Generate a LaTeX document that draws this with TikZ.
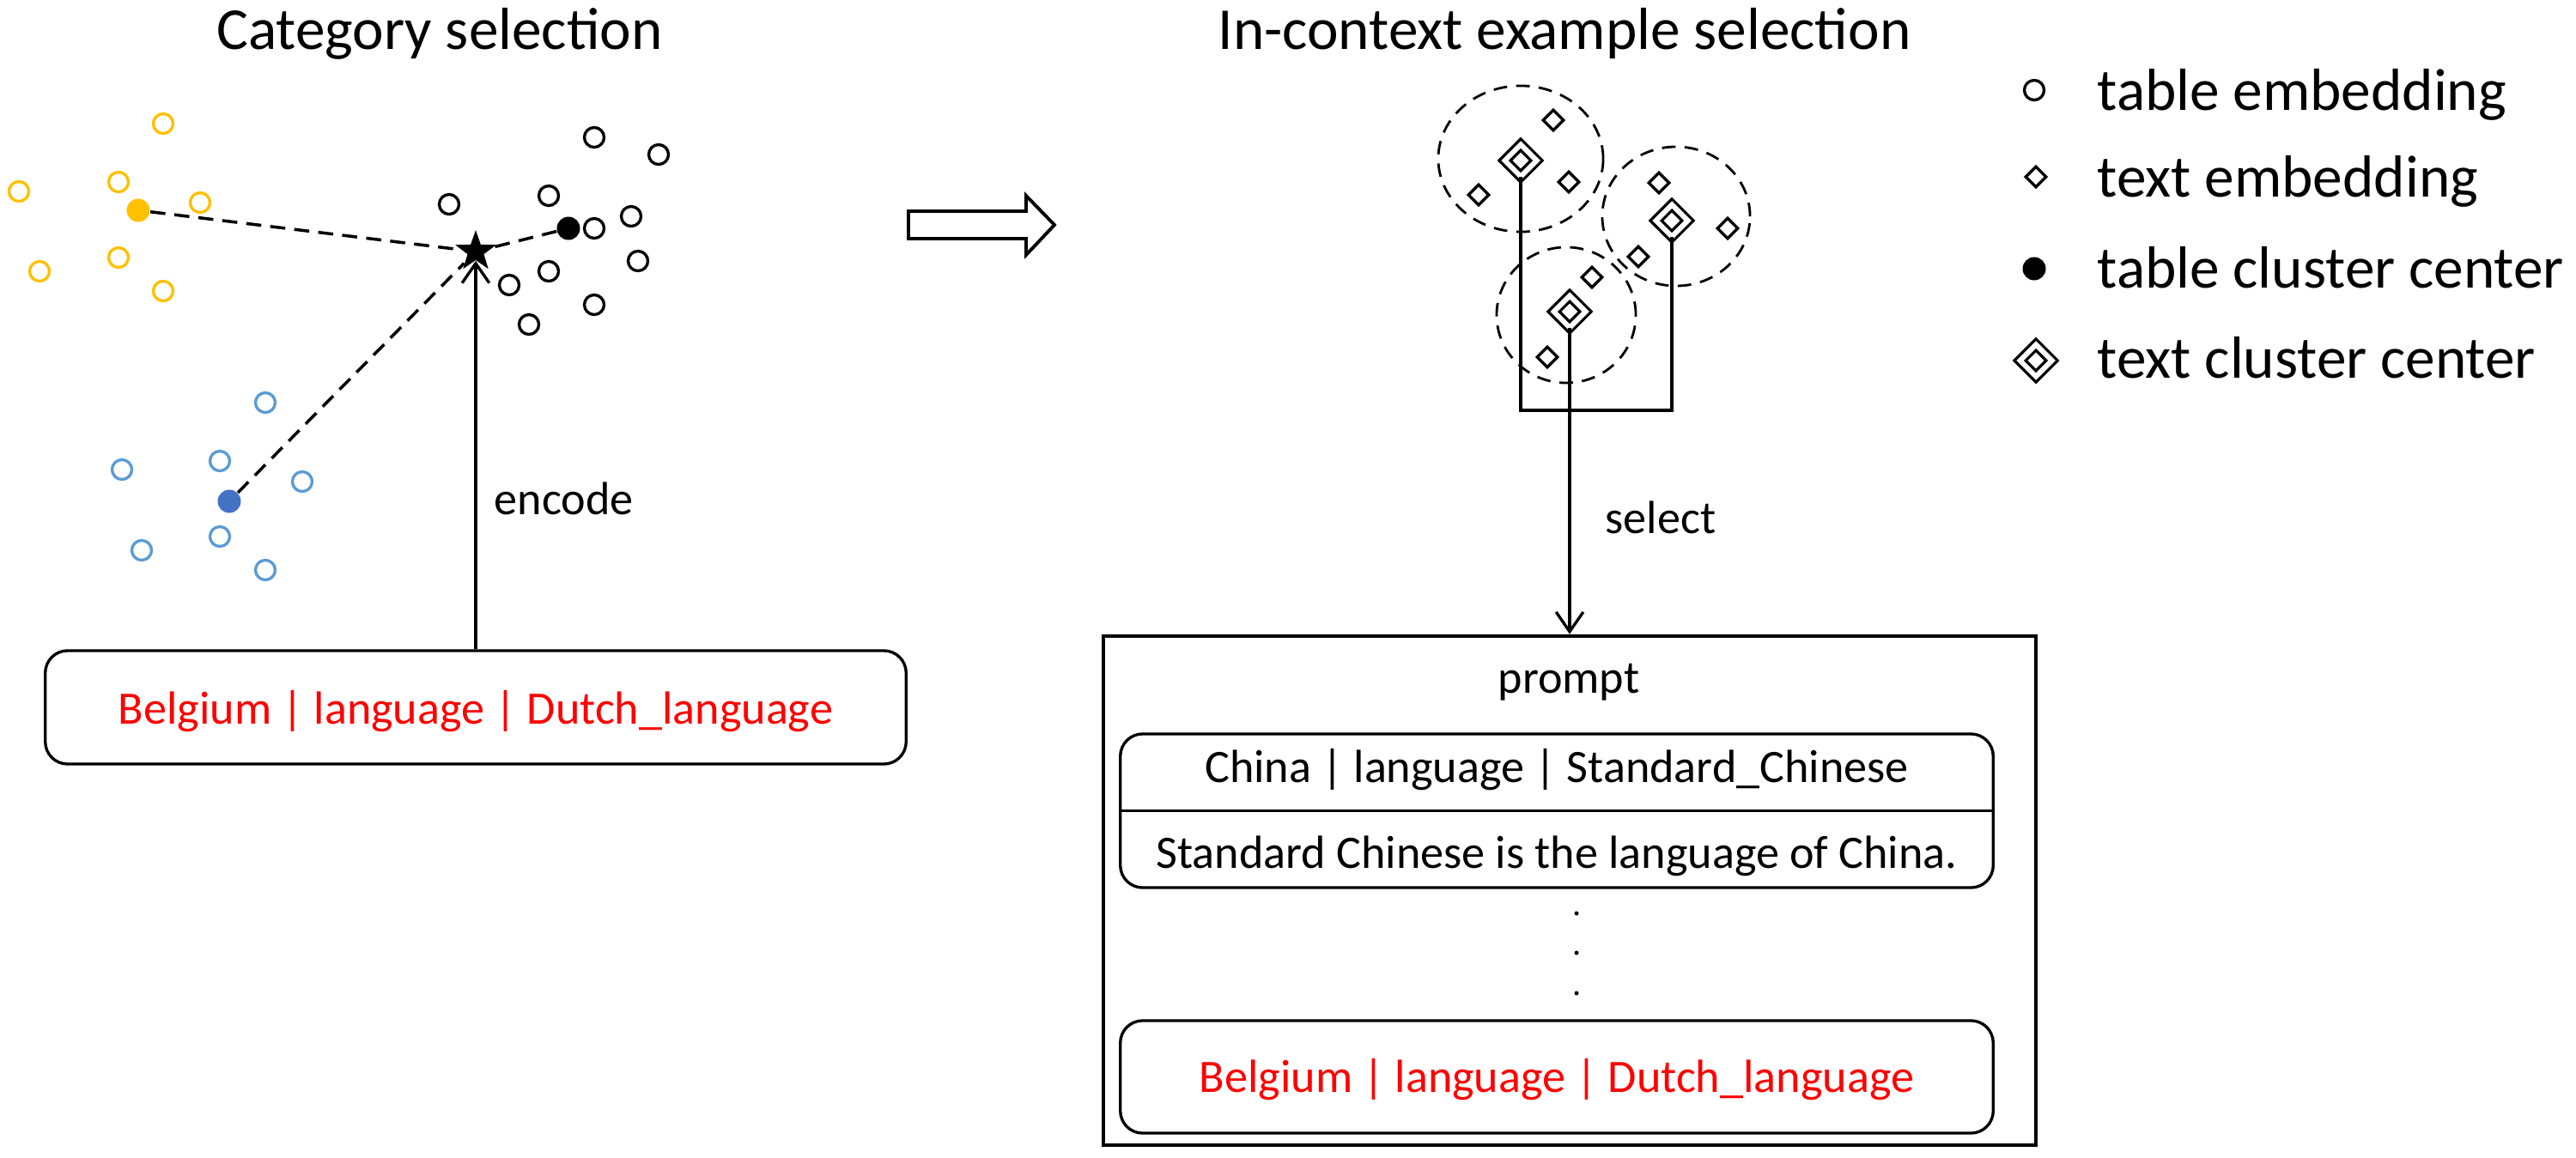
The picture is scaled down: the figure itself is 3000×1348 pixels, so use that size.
\documentclass[tikz,border=0pt]{standalone}
\usepackage{fontspec}
\setmainfont{Carlito}
\usetikzlibrary{arrows.meta, shapes.geometric}

\definecolor{gold}{HTML}{FFC000}
\definecolor{skyblue}{HTML}{5B9BD5}
\definecolor{deepblue}{HTML}{4472C4}

\begin{document}
\begin{tikzpicture}[x=0.01cm, y=-0.01cm,
        big/.style={inner sep=0pt, font=\fontsize{19.7}{23}\selectfont},
        txt/.style={inner sep=0pt, font=\fontsize{15.4}{18}\selectfont},
        emb/.style={circle, draw, line width=0.95pt, inner sep=0pt, minimum size=0.23cm},
        ctr/.style={circle, fill, inner sep=0pt, minimum size=0.27cm},
        dia/.style={diamond, draw, line width=0.95pt, inner sep=0pt, minimum size=0.25cm},
        ddia/.style={diamond, draw, double, double distance=1.7pt, line width=0.95pt, inner sep=0pt, outer sep=0pt, minimum size=0.37cm},
        dot/.style={circle, fill, inner sep=0pt, minimum size=0.05cm},
        box/.style={draw, rounded corners=0.26cm, line width=0.95pt, minimum width=10.16cm},
        arr/.style={-{Straight Barb[length=6.5pt, width=9pt]}, line width=0.95pt},
        dline/.style={line width=1pt, dash pattern=on 5pt off 3pt},
        ring/.style={line width=0.8pt, dash pattern=on 4.5pt off 3pt}]

        \useasboundingbox (0,0) rectangle (3000,1348);

        \node (catttl) [big, anchor=base] at (512,57) {Category selection};
        \node (icttl) [big, anchor=base] at (1822,57) {In-context example selection};

        % table embeddings
        \node (t1) [emb] at (692,160) {};
        \node (t2) [emb] at (767,180) {};
        \node (t3) [emb] at (523,238) {};
        \node (t4) [emb] at (639,228) {};
        \node (t5) [emb] at (735,252) {};
        \node (t6) [emb] at (692,266) {};
        \node (t7) [emb] at (743,304) {};
        \node (t8) [emb] at (639,316) {};
        \node (t9) [emb] at (593,332) {};
        \node (t10) [emb] at (692,355) {};
        \node (t11) [emb] at (616,378) {};
        \node (tc) [ctr] at (662,266) {};

        \node (y1) [emb, draw=gold] at (190,144) {};
        \node (y2) [emb, draw=gold] at (138,212) {};
        \node (y3) [emb, draw=gold] at (22,223) {};
        \node (y4) [emb, draw=gold] at (233,236) {};
        \node (y5) [emb, draw=gold] at (138,300) {};
        \node (y6) [emb, draw=gold] at (46,316) {};
        \node (y7) [emb, draw=gold] at (190,339) {};
        \node (yc) [ctr, fill=gold] at (161,245) {};

        \node (b1) [emb, draw=skyblue] at (309,469) {};
        \node (b2) [emb, draw=skyblue] at (256,537) {};
        \node (b3) [emb, draw=skyblue] at (142,547) {};
        \node (b4) [emb, draw=skyblue] at (352,561) {};
        \node (b5) [emb, draw=skyblue] at (256,625) {};
        \node (b6) [emb, draw=skyblue] at (165,641) {};
        \node (b7) [emb, draw=skyblue] at (309,664) {};
        \node (bc) [ctr, fill=deepblue] at (267,584) {};

        \node (q) [star, star points=5, star point ratio=2.5, fill, inner sep=0pt, minimum size=0.5cm] at (554,293) {};

        \node (src) [box, minimum width=10.02cm, minimum height=1.32cm] at (554,824) {};
        \node (srct) [txt, text=red, anchor=base] at (554,843) {Belgium | language | Dutch\_language};

        \path[dline]
        (yc) edge (q)
        (tc) edge (q)
        (bc) edge (q);

        \path[arr]
        (src) edge node [txt, pos=0.346, anchor=base west, xshift=0.2cm] {encode} (q);

        \draw[line width=1.1pt] (1058,246) -- (1195,246) -- (1195,228) -- (1228,262)
            -- (1195,297) -- (1195,278) -- (1058,278) -- cycle;

        % text embeddings
        \draw[ring] (1771,185) ellipse [x radius=0.96cm, y radius=0.85cm];
        \draw[ring] (1952,252) ellipse [x radius=0.86cm, y radius=0.81cm];
        \draw[ring] (1824,367) ellipse [x radius=0.81cm, y radius=0.79cm];

        \node (a1) [dia] at (1809,140) {};
        \node (a2) [dia] at (1827,212) {};
        \node (a3) [dia] at (1722,227) {};
        \node (e1) [dia] at (1932,213) {};
        \node (e2) [dia] at (2012,266) {};
        \node (e3) [dia] at (1908,299) {};
        \node (c1) [dia] at (1854,323) {};
        \node (c2) [dia] at (1802,416) {};

        \node (ca) [ddia] at (1771,187) {};
        \node (cb) [ddia] at (1947,257) {};
        \node (cc) [ddia] at (1828,363) {};

        \coordinate (bar) at (0,478);
        \draw[line width=0.95pt] (ca.south) -- (ca.south |- bar) -- (cb.south |- bar) -- (cb.south);

        \node (prompt) [draw, line width=1.2pt, minimum width=10.86cm, minimum height=5.93cm] at (1828,1037.5) {};

        \path[arr]
        (cc) edge node [txt, pos=0.672, anchor=base west, xshift=0.4cm] {select} (prompt);

        \node (ptitle) [txt, anchor=base] at (1827,807) {prompt};

        \node (ex1) [box, minimum height=1.79cm] at (1813,944.5) {};
        \draw[line width=0.95pt] (ex1.west) -- (ex1.east);
        \node (trip) [txt, anchor=base] at (1813,911) {China | language | Standard\_Chinese};
        \node (sent) [txt, anchor=base] at (1813,1011) {Standard Chinese is the language of China.};

        \node (d1) [dot] at (1836,1064) {};
        \node (d2) [dot] at (1836,1110) {};
        \node (d3) [dot] at (1836,1157) {};

        \node (ex2) [box, minimum height=1.31cm] at (1813,1254.5) {};
        \node (qry) [txt, text=red, anchor=base] at (1813,1272) {Belgium | language | Dutch\_language};

        % legend
        \node (l1) [emb] at (2369,105) {};
        \node (l2) [dia] at (2371,206) {};
        \node (l3) [ctr] at (2369,313) {};
        \node (l4) [ddia] at (2371,420) {};
        \node (l1t) [big, anchor=base west] at (2442,128) {table embedding};
        \node (l2t) [big, anchor=base west] at (2442,229) {text embedding};
        \node (l3t) [big, anchor=base west] at (2442,335) {table cluster center};
        \node (l4t) [big, anchor=base west] at (2442,440) {text cluster center};

    \end{tikzpicture}
\end{document}
